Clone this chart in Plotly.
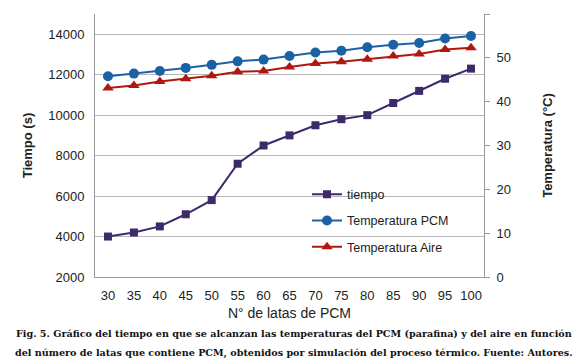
import plotly.graph_objects as go

latas = ["30", "35", "40", "45", "50", "55", "60", "65", "70", "75", "80", "85", "90", "95", "100"]
tiempo = [4000, 4200, 4500, 5100, 5800, 7600, 8500, 9000, 9500, 9800, 10000, 10600, 11200, 11800, 12300]
temp_pcm = [45.8, 46.4, 47.0, 47.7, 48.4, 49.2, 49.6, 50.4, 51.2, 51.6, 52.4, 53.0, 53.4, 54.4, 55.0]
temp_aire = [43.1, 43.7, 44.6, 45.2, 45.9, 46.8, 47.0, 47.9, 48.7, 49.1, 49.7, 50.4, 50.9, 51.9, 52.3]

left_ticks = [2000, 4000, 6000, 8000, 10000, 12000, 14000]
right_ticks = [0, 10, 20, 30, 40, 50, 60]

caption1 = "Fig. 5. Gráfico del tiempo en que se alcanzan las temperaturas del PCM (parafina) y del aire en función"
caption2 = "del número de latas que contiene PCM, obtenidos por simulación del proceso térmico. Fuente: Autores."

c_t = "#3d2a6b"
c_p = "#1a62a3"
c_a = "#b0170f"

fig = go.Figure()
fig.add_trace(go.Scatter(x=latas, y=tiempo, name="tiempo", mode="lines+markers",
                         line=dict(color=c_t, width=2), marker=dict(symbol="square", size=8, color=c_t),
                         legendgroup="a"))
fig.add_trace(go.Scatter(x=latas, y=temp_pcm, name="Temperatura PCM", mode="lines+markers", yaxis="y2",
                         line=dict(color=c_p, width=2), marker=dict(symbol="circle", size=10, color=c_p),
                         legendgroup="b"))
fig.add_trace(go.Scatter(x=latas, y=temp_aire, name="Temperatura Aire", mode="lines+markers", yaxis="y2",
                         line=dict(color=c_a, width=2), marker=dict(symbol="triangle-up", size=10, color=c_a),
                         legendgroup="c"))

font = "Liberation Sans, Arial, sans-serif"
fig.update_layout(
    width=572, height=356,
    margin=dict(l=87, r=96, t=6, b=87, autoexpand=False),
    paper_bgcolor="white", plot_bgcolor="white",
    font=dict(family=font, size=13, color="#222"),
    showlegend=True,
    legend=dict(x=0.545, y=0.37, xanchor="left", yanchor="top", bgcolor="rgba(0,0,0,0)",
                font=dict(size=12.5, color="#222"), tracegroupgap=7, traceorder="grouped",
                itemwidth=30),
    xaxis=dict(type="category", range=[-0.5, 14.5], showline=True, linecolor="#999", linewidth=1,
               showgrid=False, ticks="", tickfont=dict(size=13), automargin=False, ticklabelstandoff=6,
               title=dict(text="N° de latas de PCM", font=dict(size=14), standoff=6)),
    yaxis=dict(range=[2000, 15000], tickvals=left_ticks, tickformat="d", showline=True, linecolor="#999",
               linewidth=1, automargin=False, ticklabelstandoff=7,
               showgrid=True, gridcolor="#b8b8b8", gridwidth=1, ticks="", tickfont=dict(size=13),
               zeroline=False,
               title=dict(text="<b>Tiempo (s)</b>", font=dict(size=13), standoff=12)),
    yaxis2=dict(range=[0, 60], tickvals=right_ticks, overlaying="y", side="right", showline=True,
                linecolor="#999", linewidth=1, showgrid=False, ticks="outside", ticklen=5, tickcolor="#999",
                tickfont=dict(size=13), zeroline=False, automargin=False, ticklabelstandoff=4,
                title=dict(text="<b>Temperatura (°C)</b>", font=dict(size=13), standoff=32)),
    annotations=[
        dict(text="<b>" + caption1 + "</b>", xref="paper", yref="paper", x=0.5116, y=-0.213,
             xanchor="center", yanchor="middle", showarrow=False,
             font=dict(family="DejaVu Serif, serif", size=9.6, color="#111")),
        dict(text="<b>" + caption2 + "</b>", xref="paper", yref="paper", x=0.5116, y=-0.289,
             xanchor="center", yanchor="middle", showarrow=False,
             font=dict(family="DejaVu Serif, serif", size=9.6, color="#111")),
    ],
)

fig.write_html("out.html")
